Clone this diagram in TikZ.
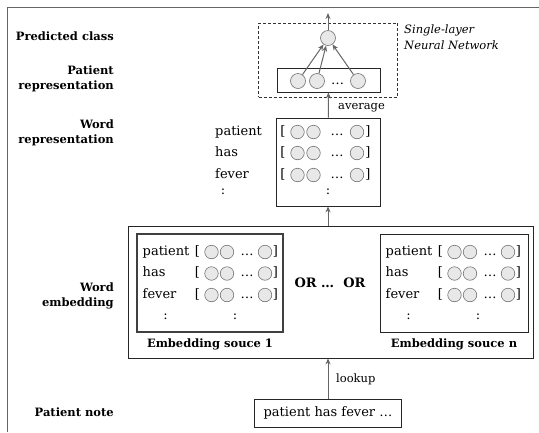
\documentclass[tikz,border=0pt]{standalone}
\usepackage{fontspec}
\setmainfont{DejaVu Serif}
\usepackage[dvipsnames]{xcolor}
\usetikzlibrary{arrows.meta}

\tikzset{
  unit/.style={circle,draw=black!55,fill=black!9,line width=0.6pt,inner sep=0pt,minimum size=13.5pt},
  box/.style={draw=black!85,line width=0.8pt,inner sep=0pt},
  flow/.style={-{Stealth[length=6pt,width=5pt]},draw=black!60,line width=1pt},
  layer/.style={font=\fontsize{11.5}{15.5}\selectfont\bfseries,align=right,anchor=east,inner sep=0pt},
  word/.style={font=\fontsize{13}{15}\selectfont,inner sep=0pt,text height=9.5pt,text depth=3pt},
  small/.style={font=\fontsize{11.5}{15.5}\selectfont,inner sep=0pt},
}

\begin{document}
\begin{tikzpicture}[x=1pt,y=-1pt]
  \useasboundingbox (0,0) rectangle (539,432);
  \draw[black!60,line width=1pt] (7,432) -- (7,7) -- (539,7);

  % layer names
  \node[layer] (lPred) at (114,36) {Predicted class};
  \node[layer] (lPrep) at (114,79) {Patient\\representation};
  \node[layer] (lWrep) at (114,133) {Word\\representation};
  \node[layer] (lWemb) at (114,296) {Word\\embedding};
  \node[layer] (lNote) at (114,412) {Patient note};

  % single-layer network
  \node[draw=black!80,dash pattern=on 3pt off 2pt,line width=0.7pt,minimum width=139pt,minimum height=74pt] (nn) at (328,60) {};
  \node[small,font=\fontsize{11.5}{15.5}\selectfont\itshape,align=left,anchor=west] (nnlab) at (404,37) {Single-layer\\Neural Network};
  \node[box,minimum width=103pt,minimum height=24pt] (rep) at (328.5,80) {};
  \node[unit,minimum size=15pt] (out) at (328,38) {};
  \coordinate (top) at (328,13);
  \draw[flow] (out) -- (top);
  \foreach \x [count=\i] in {298,317,358}{
    \node[unit,minimum size=15pt] (r\i) at (\x,81) {};
    \draw[flow] (r\i) -- (out);
  }
  \node[word] (rdots) at (337.5,81) {\dots};

  % word representation
  \node[box,minimum width=104pt,minimum height=88pt] (wr) at (328,162) {};
  \draw[flow] (wr) -- (rep);
  \node[small,anchor=west] (avg) at (338,108) {average};
  \foreach \w/\y [count=\i] in {patient/132,has/153,fever/175}{
    \node[word,anchor=west] (wr-w\i) at (215,\y) {\w};
    \node[word] (wr-l\i) at (283,\y) {[};
    \node[unit] (wr-a\i) at (297.5,\y) {};
    \node[unit] (wr-b\i) at (313.5,\y) {};
    \node[word] (wr-d\i) at (337,\y) {\dots};
    \node[unit] (wr-c\i) at (357,\y) {};
    \node[word] (wr-r\i) at (368,\y) {]};
  }
  \node[word] (wr-v1) at (223,191) {:};
  \node[word] (wr-v2) at (328,191) {:};

  % embedding sources
  \node[box,minimum width=405pt,minimum height=132pt] (emb) at (330.5,292) {};
  \draw[flow] (wr.south |- emb.north) -- (wr);
  \node[box,draw=black!75,line width=1.3pt,minimum width=146pt,minimum height=98pt] (src1) at (210,283) {};
  \node[box,minimum width=148pt,minimum height=98pt] (srcn) at (454,283) {};
  \foreach \s/\x in {1/137,n/380}{
    \foreach \w/\y [count=\i] in {patient/252,has/273.5,fever/295}{
      \node[word,anchor=west] (e\s-w\i) at (\x+5.5,\y) {\w};
      \node[word] (e\s-l\i) at (\x+60.5,\y) {[};
      \node[unit] (e\s-a\i) at (\x+74.5,\y) {};
      \node[unit] (e\s-b\i) at (\x+90,\y) {};
      \node[word] (e\s-d\i) at (\x+110,\y) {\dots};
      \node[unit] (e\s-c\i) at (\x+128,\y) {};
      \node[word] (e\s-r\i) at (\x+138.5,\y) {]};
    }
    \node[word] (e\s-v1) at (\x+28.5,316) {:};
    \node[word] (e\s-v2) at (\x+98,316) {:};
  }
  \node[font=\fontsize{13}{15}\selectfont\bfseries] (or) at (330,283) {OR \dots\ \ OR};
  \node[font=\fontsize{11.5}{14}\selectfont\bfseries] (s1lab) at (210,344) {Embedding souce 1};
  \node[font=\fontsize{11.5}{14}\selectfont\bfseries] (snlab) at (454,344) {Embedding souce n};

  % patient note
  \node[box,word,minimum width=147pt,minimum height=28pt] (note) at (328,413) {patient has fever \dots};
  \draw[flow] (note) -- (note |- emb.south);
  \node[small,anchor=west] (look) at (336,379) {lookup};
\end{tikzpicture}
\end{document}
